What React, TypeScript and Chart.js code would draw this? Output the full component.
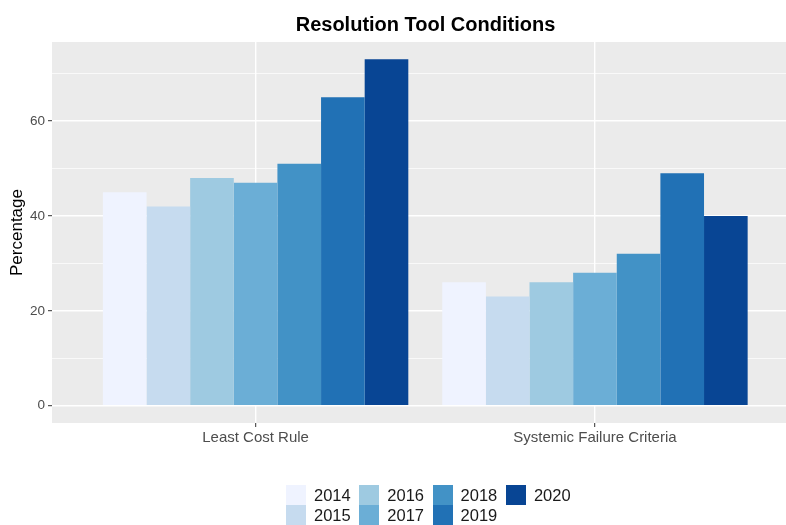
import React, { useEffect, useRef } from "react";
import { Chart, registerables } from "chart.js";

Chart.register(...registerables);

const categories = ["Least Cost Rule", "Systemic Failure Criteria"];
const years = ["2014", "2015", "2016", "2017", "2018", "2019", "2020"];
const colors = ["#EFF3FF", "#C6DBEF", "#9ECAE1", "#6BAED6", "#4292C6", "#2171B5", "#084594"];
const leastCostRule = [45, 42, 48, 47, 51, 65, 73];
const systemicFailure = [26, 23, 26, 28, 32, 49, 40];
const yTicks = [0, 10, 20, 30, 40, 50, 60, 70];
const yLabelTicks = [0, 20, 40, 60];

const FONT = "'Liberation Sans', Arial, Helvetica, sans-serif";

const panelBg = {
  id: "panelBg",
  beforeDraw(chart: any) {
    const { ctx, chartArea } = chart;
    ctx.save();
    ctx.fillStyle = "#EBEBEB";
    ctx.fillRect(chartArea.left, chartArea.top, chartArea.right - chartArea.left, chartArea.bottom - chartArea.top);
    ctx.restore();
  },
};

// The ggplot panel continues past the right edge of the image; centre the title on the full panel
const titleShift = {
  id: "titleShift",
  afterLayout(chart: any) {
    const tb = chart.titleBlock;
    if (tb) {
      tb.right += 13;
      tb.width = tb.right - tb.left;
    }
  },
};

export default function App() {
  const ref = useRef<HTMLCanvasElement | null>(null);

  useEffect(() => {
    document.body.style.margin = "0";
    document.body.style.overflow = "hidden";
    if (!ref.current) return;
    const datasets = years.map((yr, k) => ({
      label: yr,
      data: [leastCostRule[k], systemicFailure[k]].map((v, i) => ({ x: i + 1, y: v })),
      backgroundColor: colors[k],
      borderWidth: 0,
      categoryPercentage: 0.9,
      barPercentage: 1.0,
    }));
    const chart = new Chart(ref.current, {
      type: "bar",
      data: { datasets },
      plugins: [panelBg, titleShift],
      options: {
        animation: false,
        responsive: false,
        maintainAspectRatio: false,
        layout: { padding: { left: 0, right: 0, top: 0, bottom: 0 } },
        plugins: {
          legend: { display: false },
          tooltip: { enabled: false },
          title: {
            display: true,
            text: "Resolution Tool Conditions",
            fullSize: false,
            color: "#000000",
            font: { family: FONT, size: 20, weight: "bold" },
            padding: { top: 13, bottom: 5 },
          },
        },
        scales: {
          x: {
            type: "linear",
            min: 0.4,
            max: 2.563,
            offset: false,
            afterBuildTicks: (scale: any) => {
              scale.ticks = categories.map((_, i) => ({ value: i + 1 }));
            },
            afterFit: (scale: any) => {
              scale.height = 102;
            },
            ticks: {
              callback: (v: any) => categories[Math.round(Number(v)) - 1] ?? "",
              color: "#4D4D4D",
              font: { family: FONT, size: 15 },
              padding: 2,
              maxRotation: 0,
              autoSkip: false,
            },
            grid: {
              offset: false,
              color: "#FFFFFF",
              lineWidth: 1.4,
              drawTicks: true,
              tickLength: 4,
              tickColor: "#333333",
              tickWidth: 1,
            },
            border: { display: false },
          },
          y: {
            min: -3.65,
            max: 76.65,
            afterBuildTicks: (scale: any) => {
              scale.ticks = yTicks.map((v) => ({ value: v }));
            },
            afterFit: (scale: any) => {
              scale.width = 52;
            },
            ticks: {
              callback: (v: any) => (yLabelTicks.includes(Number(v)) ? String(v) : ""),
              color: "#4D4D4D",
              font: { family: FONT, size: 13.5 },
              padding: 3,
              autoSkip: false,
            },
            grid: {
              color: "#FFFFFF",
              lineWidth: (c: any) => (c.tick && yLabelTicks.includes(c.tick.value) ? 1.4 : 0.7),
              drawTicks: true,
              tickLength: 4,
              tickColor: (c: any) => (c.tick && yLabelTicks.includes(c.tick.value) ? "#333333" : "rgba(0,0,0,0)"),
              tickWidth: 1,
            },
            border: { display: false },
            title: {
              display: true,
              text: "Percentage",
              color: "#000000",
              font: { family: FONT, size: 17 },
              padding: { top: 7, bottom: 0 },
            },
          },
        },
      },
    } as any);
    return () => chart.destroy();
  }, []);

  return (
    <div style={{ position: "relative", width: 786, height: 525, fontFamily: FONT }}>
      <canvas ref={ref} width={786} height={525} style={{ display: "block" }} />
      <div
        style={{
          position: "absolute",
          left: 286,
          top: 485,
          display: "grid",
          gridTemplateRows: "20px 20px",
          gridAutoFlow: "column",
          gridAutoColumns: "73.3px",
        }}
      >
        {years.map((yr, k) => (
          <div key={yr} style={{ display: "flex", alignItems: "center", height: 20 }}>
            <span style={{ display: "inline-block", width: 20, height: 20, background: colors[k] }} />
            <span style={{ marginLeft: 8, fontSize: 16.5, color: "#1A1A1A", lineHeight: "20px" }}>{yr}</span>
          </div>
        ))}
      </div>
    </div>
  );
}
